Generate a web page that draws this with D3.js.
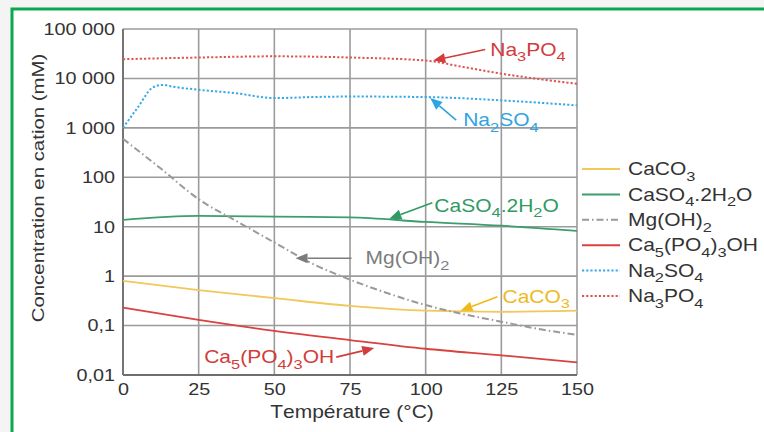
<!DOCTYPE html>
<html>
<head>
<meta charset="utf-8">
<script src="https://cdn.jsdelivr.net/npm/d3@7"></script>
<style>
  html, body { margin: 0; padding: 0; background: #f4f4f4; }
  svg { display: block; }
  text { font-family: "Liberation Sans", Arial, sans-serif; }
</style>
</head>
<body>
<svg id="chart" width="764" height="432"></svg>
<script>
// temperatures (°C) and cation concentrations (mM)
const tempCaCO3 = [0, 25, 50, 75, 100, 125, 150];
const valCaCO3 = [0.8, 0.52, 0.36, 0.25, 0.2, 0.19, 0.2];

const tempCaSO4 = [0, 25, 50, 75, 100, 125, 150];
const valCaSO4 = [13.7, 16.5, 16, 15.5, 12.5, 10.5, 8.2];

const tempMgOH = [0, 12.5, 25, 37.5, 50, 62.5, 75, 87.5, 100, 112.5, 125, 137.5, 150];
const valMgOH = [600, 150, 36, 13, 4.8, 1.8, 0.85, 0.45, 0.26, 0.17, 0.12, 0.085, 0.065];

const tempCa5 = [0, 25, 50, 75, 100, 125, 150];
const valCa5 = [0.23, 0.13, 0.078, 0.051, 0.034, 0.025, 0.018];

const tempNa2SO4 = [0, 5, 9.6, 13, 16.5, 25, 37.5, 50, 62.5, 75, 100, 125, 150];
const valNa2SO4 = [1000, 2650, 6400, 7400, 6800, 5900, 5000, 4000, 4200, 4300, 4200, 3600, 2850];

const tempNa3PO4 = [0, 25, 50, 75, 100, 112.5, 125, 150];
const valNa3PO4 = [24500, 26500, 28000, 26500, 23000, 17000, 12500, 7800];

const xTicks = [0, 25, 50, 75, 100, 125, 150];
const yTicks = [0.01, 0.1, 1, 10, 100, 1000, 10000, 100000];

const seriesNames = ["CaCO3", "CaSO4.2H2O", "Mg(OH)2", "Ca5(PO4)3OH", "Na2SO4", "Na3PO4"];
const seriesColors = ["#f2c75c", "#3c9e6c", "#9a9a9a", "#d8423f", "#3aaae6", "#dc5652"];
const seriesDash = [null, null, "7,3,1.5,3", null, "2.2,2", "2.2,2"];
const seriesTemps = [tempCaCO3, tempCaSO4, tempMgOH, tempCa5, tempNa2SO4, tempNa3PO4];
const seriesVals = [valCaCO3, valCaSO4, valMgOH, valCa5, valNa2SO4, valNa3PO4];

// callouts: arrow tip on the curve (temp, value), tail offset and label in px
const notes = [
  { name: "Na3PO4", color: "#d23c3a", t: 102.5, v: 23000, dx: 52, dy: -11, lx: 57, ly: -11 },
  { name: "Na2SO4", color: "#2ea4e2", t: 101.5, v: 4000, dx: 26, dy: 22, lx: 33, ly: 22 },
  { name: "CaSO4.2H2O", color: "#2f9a62", t: 88, v: 14.5, dx: 43, dy: -16, lx: 45, ly: -13 },
  { name: "Mg(OH)2", color: "#7c7c7c", t: 57, v: 2.3, dx: 56, dy: 0, lx: 70, ly: 0 },
  { name: "CaCO3", color: "#efb91e", t: 111.5, v: 0.2, dx: 37, dy: -14, lx: 42, ly: -14 },
  { name: "Ca5(PO4)3OH", color: "#d23c3a", t: 83, v: 0.035, dx: -38, dy: 9, lx: -40, ly: 9, anchor: "end" }
];

const stretch = 1.2;

const svg = d3.select("#chart");
const margin = { left: 123, top: 29, right: 577, bottom: 375 };

const x = d3.scaleLinear().domain([0, 150]).range([margin.left, margin.right]);
const y = d3.scaleLog().domain([0.01, 100000]).range([margin.bottom, margin.top]);

const frTick = d3.formatLocale({ decimal: ",", thousands: " ", grouping: [3], currency: ["", ""] }).format(",~g");

// write a chemical formula with subscripted digits
function formula(sel, s, size) {
  sel.text(null);
  let prev = "";
  let low = false;
  for (const ch of s) {
    const sub = /[0-9]/.test(ch) && /[A-Za-z)]/.test(prev);
    const ts = sel.append("tspan").text(ch);
    if (sub) {
      ts.attr("font-size", size * 0.78);
      if (!low) { ts.attr("dy", size * 0.32); low = true; }
    } else if (low) { ts.attr("dy", -size * 0.32); low = false; }
    prev = ch;
  }
}

// a wide sans label: text drawn in a stretched local frame
function label(parent, px, py, str, size, color, anchor, rot) {
  const g = parent.append("g")
    .attr("transform", `translate(${px},${py})${rot ? ` rotate(${rot})` : ""} scale(${stretch},1)`);
  return g.append("text").attr("dy", "0.35em").attr("text-anchor", anchor || "start")
    .attr("font-size", size).attr("fill", color).call(formula, str, size);
}

// page frame
svg.append("rect").attr("x", 0).attr("y", 0).attr("width", 764).attr("height", 432).attr("fill", "#f4f4f4");
svg.append("rect").attr("x", 12).attr("y", 9).attr("width", 800).attr("height", 500)
  .attr("fill", "#fff").attr("stroke", "#0aa84f").attr("stroke-width", 3);

// grid
const grid = svg.append("g").attr("stroke", "#9b9b9b").attr("stroke-width", 1.6);
grid.selectAll(".gx").data(xTicks).enter().append("line")
  .attr("x1", d => x(d)).attr("x2", d => x(d)).attr("y1", margin.top).attr("y2", margin.bottom);
grid.selectAll(".gy").data(yTicks).enter().append("line")
  .attr("x1", margin.left).attr("x2", margin.right).attr("y1", d => y(d)).attr("y2", d => y(d));
svg.append("line").attr("x1", margin.left).attr("x2", margin.left).attr("y1", margin.top).attr("y2", margin.bottom)
  .attr("stroke", "#6f6f6f").attr("stroke-width", 1.8);
svg.append("line").attr("x1", margin.left).attr("x2", margin.right).attr("y1", margin.bottom).attr("y2", margin.bottom)
  .attr("stroke", "#6f6f6f").attr("stroke-width", 1.8);

// axes (labels only)
const yAxis = svg.append("g").attr("transform", `translate(${margin.left},0)`)
  .call(d3.axisLeft(y).tickValues(yTicks).tickFormat(frTick).tickSize(0).tickPadding(7));
const xAxis = svg.append("g").attr("transform", `translate(0,${margin.bottom})`)
  .call(d3.axisBottom(x).tickValues(xTicks).tickFormat(d3.format("d")).tickSize(0).tickPadding(8));
[yAxis, xAxis].forEach(a => {
  a.select(".domain").remove();
  a.selectAll("text").attr("font-family", "Liberation Sans, Arial, sans-serif")
    .attr("font-size", 16.5).attr("fill", "#333")
    .attr("transform", `scale(${stretch},1)`);
});
yAxis.selectAll("text").attr("x", -8 / stretch);

label(svg, 352, 412, "Température (°C)", 17.5, "#333", "middle");
label(svg, 38, 188, "Concentration en cation (mM)", 17, "#333", "middle", -90);

// curves
const line = d3.line().x(d => x(d[0])).y(d => y(d[1])).curve(d3.curveMonotoneX);
seriesNames.forEach((name, i) => {
  const pts = seriesTemps[i].map((t, j) => [t, seriesVals[i][j]]);
  svg.append("path").datum(pts)
    .attr("fill", "none")
    .attr("stroke", seriesColors[i])
    .attr("stroke-width", seriesDash[i] ? 2 : 1.8)
    .attr("stroke-dasharray", seriesDash[i])
    .attr("d", line);
});

// callouts with arrows
notes.forEach(n => {
  const tx = x(n.t), ty = y(n.v);
  const ex = tx + n.dx, ey = ty + n.dy;
  const ang = Math.atan2(ty - ey, tx - ex);
  const len = 12, half = 5;
  const bx = tx - len * Math.cos(ang), by = ty - len * Math.sin(ang);
  svg.append("line").attr("x1", ex).attr("y1", ey).attr("x2", bx).attr("y2", by)
    .attr("stroke", n.color).attr("stroke-width", 1.6);
  svg.append("path")
    .attr("d", `M${tx},${ty}L${bx - half * Math.sin(ang)},${by + half * Math.cos(ang)}L${bx + half * Math.sin(ang)},${by - half * Math.cos(ang)}Z`)
    .attr("fill", n.color);
  label(svg, tx + n.lx, ty + n.ly, n.name, 17.5, n.color, n.anchor);
});

// legend
const legend = svg.append("g").attr("transform", "translate(582,169)");
seriesNames.forEach((name, i) => {
  const row = legend.append("g").attr("transform", `translate(0,${i * 25.4})`);
  row.append("line").attr("x1", 0).attr("x2", 38).attr("y1", 0).attr("y2", 0)
    .attr("stroke", seriesColors[i]).attr("stroke-width", 2).attr("stroke-dasharray", seriesDash[i]);
  label(row, 46, 0, name, 17.5, "#333");
});
</script>
</body>
</html>
